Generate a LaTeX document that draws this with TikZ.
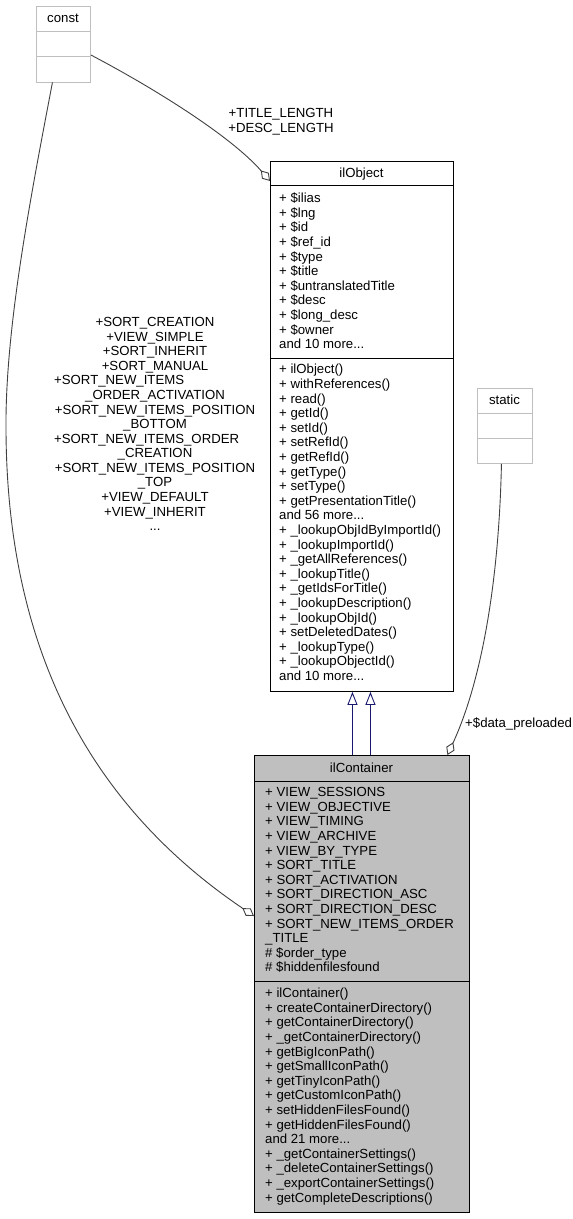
\documentclass[tikz,border=0pt]{standalone}
\usepackage{fontspec}
\setmainfont{Liberation Sans}
\usetikzlibrary{arrows.meta,calc}
\definecolor{grayfill}{HTML}{BFBFBF}
\definecolor{edgegray}{HTML}{404040}
\definecolor{navyblue}{HTML}{191970}
\newcommand\tdots{...}
\begin{document}
\begin{tikzpicture}[x=1pt,y=-1pt,
  txt/.style={inner sep=0pt, font=\fontsize{13.2}{14.6}\selectfont, anchor=base west},
  ctxt/.style={txt, anchor=base},
  mainbox/.style={draw=black, line width=0.9pt, fill=white, inner sep=0pt, anchor=north west},
  greybox/.style={draw=grayfill, line width=0.9pt, fill=white, inner sep=0pt, anchor=north west},
  blacksep/.style={draw=black, line width=0.9pt},
  greysep/.style={draw=grayfill, line width=0.9pt},
  usage/.style={draw=edgegray, line width=0.9pt, -{Diamond[fill=white, length=14pt, width=9pt]}},
  inherit/.style={draw=navyblue, line width=0.9pt, -{Triangle[fill=white, length=13pt, width=10pt]}}]
\useasboundingbox (0,0) rectangle (573,1219);

% const
\node[greybox, minimum width=54pt, minimum height=76pt] (const) at (36,5.5) {};
\draw[greysep] ([yshift=-25.5pt]const.north west) -- ([yshift=-25.5pt]const.north east);
\draw[greysep] ([yshift=-51pt]const.north west) -- ([yshift=-51pt]const.north east);
\node[ctxt] (constT) at (63,22) {const};

% static
\node[greybox, minimum width=55pt, minimum height=75pt] (static) at (477,388) {};
\draw[greysep] ([yshift=-25pt]static.north west) -- ([yshift=-25pt]static.north east);
\draw[greysep] ([yshift=-50pt]static.north west) -- ([yshift=-50pt]static.north east);
\node[ctxt] (staticT) at (504.5,404) {static};

% ilObject
\node[mainbox, minimum width=183pt, minimum height=530pt] (obj) at (270,161) {};
\draw[blacksep] ([yshift=-24pt]obj.north west) -- ([yshift=-24pt]obj.north east);
\draw[blacksep] ([yshift=-197pt]obj.north west) -- ([yshift=-197pt]obj.north east);
\node[ctxt] (objT) at (361.5,177.7) {ilObject};
\foreach \t [count=\i from 0] in {{+ \$ilias},{+ \$lng},{+ \$id},{+ \$ref\_id},{+ \$type},{+ \$title},{+ \$untranslatedTitle},{+ \$desc},{+ \$long\_desc},{+ \$owner},{and 10 more\tdots}}
  \node[txt] (oa\i) at (279,{202.6+14.6*\i}) {\t};
\foreach \t [count=\i from 0] in {{+ ilObject()},{+ withReferences()},{+ read()},{+ getId()},{+ setId()},{+ setRefId()},{+ getRefId()},{+ getType()},{+ setType()},{+ getPresentationTitle()},{and 56 more\tdots},{+ \_lookupObjIdByImportId()},{+ \_lookupImportId()},{+ \_getAllReferences()},{+ \_lookupTitle()},{+ \_getIdsForTitle()},{+ \_lookupDescription()},{+ \_lookupObjId()},{+ setDeletedDates()},{+ \_lookupType()},{+ \_lookupObjectId()},{and 10 more\tdots}}
  \node[txt] (om\i) at (279,{373.8+14.6*\i}) {\t};

% ilContainer
\node[mainbox, fill=grayfill, minimum width=215pt, minimum height=457pt] (cont) at (254,755) {};
\draw[blacksep] ([yshift=-26pt]cont.north west) -- ([yshift=-26pt]cont.north east);
\draw[blacksep] ([yshift=-226.5pt]cont.north west) -- ([yshift=-226.5pt]cont.north east);
\node[ctxt] (contT) at (361.5,772) {ilContainer};
\foreach \t [count=\i from 0] in {{+ VIEW\_SESSIONS},{+ VIEW\_OBJECTIVE},{+ VIEW\_TIMING},{+ VIEW\_ARCHIVE},{+ VIEW\_BY\_TYPE},{+ SORT\_TITLE},{+ SORT\_ACTIVATION},{+ SORT\_DIRECTION\_ASC},{+ SORT\_DIRECTION\_DESC},{+ SORT\_NEW\_ITEMS\_ORDER},{\_TITLE},{\# \$order\_type},{\# \$hiddenfilesfound}}
  \node[txt] (ca\i) at (265,{796.6+14.6*\i}) {\t};
\foreach \t [count=\i from 0] in {{+ ilContainer()},{+ createContainerDirectory()},{+ getContainerDirectory()},{+ \_getContainerDirectory()},{+ getBigIconPath()},{+ getSmallIconPath()},{+ getTinyIconPath()},{+ getCustomIconPath()},{+ setHiddenFilesFound()},{+ getHiddenFilesFound()},{and 21 more\tdots},{+ \_getContainerSettings()},{+ \_deleteContainerSettings()},{+ \_exportContainerSettings()},{+ getCompleteDescriptions()}}
  \node[txt] (cm\i) at (265,{997.6+14.6*\i}) {\t};

% connectors
\draw[usage] ([yshift=-49.5pt]const.north east) .. controls (150,86) and (230,135) .. ([yshift=-20pt]obj.north west);
\draw[usage] ([xshift=-11pt]const.south) .. controls (30,200) and (5,330) .. (6,430) .. controls (7,650) and (90,805) .. ([yshift=-161pt]cont.north west);
\draw[usage] ([xshift=-3.5pt]static.south) .. controls (499,580) and (482,680) .. ([xshift=85.5pt]cont.north);
\draw[inherit] ([xshift=-9.5pt]cont.north) -- ([xshift=-9.5pt]obj.south);
\draw[inherit] ([xshift=8.5pt]cont.north) -- ([xshift=8.5pt]obj.south);

% edge labels
\node[ctxt] (l1a) at (281,117.6) {+TITLE\_LENGTH};
\node[ctxt] (l1b) at (281,132.6) {+DESC\_LENGTH};
\node[txt] (l3) at (465,727.6) {+\$data\_preloaded};
\node[ctxt] (lb0) at (155,326.6) {+SORT\_CREATION};
\node[ctxt] (lb1) at (155,341.2) {+VIEW\_SIMPLE};
\node[ctxt] (lb2) at (155,355.7) {+SORT\_INHERIT};
\node[ctxt] (lb3) at (155,370.3) {+SORT\_MANUAL};
\node[txt]  (lb4) at (54,384.9) {+SORT\_NEW\_ITEMS};
\node[ctxt] (lb5) at (155,399.5) {\_ORDER\_ACTIVATION};
\node[ctxt] (lb6) at (155,414.0) {+SORT\_NEW\_ITEMS\_POSITION};
\node[ctxt] (lb7) at (155,428.6) {\_BOTTOM};
\node[txt]  (lb8) at (54,443.2) {+SORT\_NEW\_ITEMS\_ORDER};
\node[ctxt] (lb9) at (155,457.7) {\_CREATION};
\node[ctxt] (lb10) at (155,472.3) {+SORT\_NEW\_ITEMS\_POSITION};
\node[ctxt] (lb11) at (155,486.9) {\_TOP};
\node[ctxt] (lb12) at (155,501.4) {+VIEW\_DEFAULT};
\node[ctxt] (lb13) at (155,516.0) {+VIEW\_INHERIT};
\node[ctxt] (lb14) at (155,530.6) {\tdots};
\end{tikzpicture}
\end{document}
